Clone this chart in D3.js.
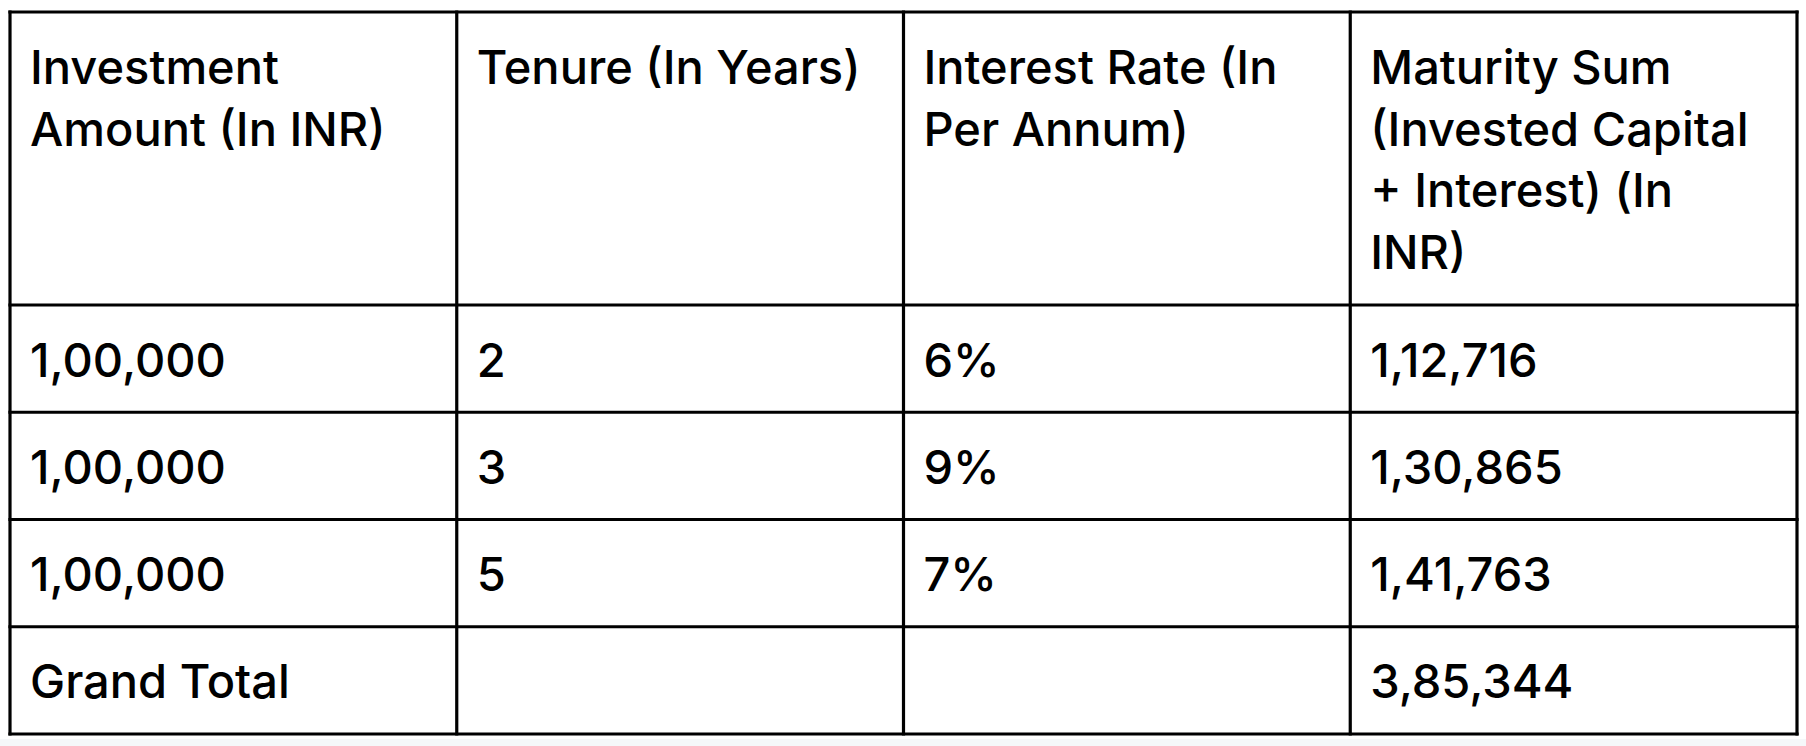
<!DOCTYPE html>
<html>
<head>
<meta charset="utf-8">
<script src="https://cdn.jsdelivr.net/npm/d3@7"></script>
<style>
  html, body { margin: 0; padding: 0; background: #ffffff; }
  svg { display: block; }
</style>
</head>
<body>
<svg id="drawing_region"></svg>
<script>
// table contents
const headers = [
    ["Investment", "Amount (In INR)"],
    ["Tenure (In Years)"],
    ["Interest Rate (In", "Per Annum)"],
    ["Maturity Sum", "(Invested Capital", "+ Interest) (In", "INR)"]
];
const amounts = ["1,00,000", "1,00,000", "1,00,000"];
const tenures = ["2", "3", "5"];
const rates = ["6%", "9%", "7%"];
const maturity = ["1,12,716", "1,30,865", "1,41,763"];
const totalLabel = "Grand Total";
const grandTotal = "3,85,344";

const width = 1806, height = 746;
const tblLeft = 10, tblRight = 1797, tblTop = 12, headerBottom = 305, tblBottom = 734;

const svg = d3.select('#drawing_region')
    .attr('width', width)
    .attr('height', height);

// faint strip under the table
svg.append('rect')
    .attr('x', 0).attr('y', 739)
    .attr('width', width).attr('height', height - 739)
    .attr('fill', '#f5f7f9');

const rows = amounts.map((a, i) => [a, tenures[i], rates[i], maturity[i]]);
rows.push([totalLabel, "", "", grandTotal]);

const xscale = d3.scaleBand()
    .domain(d3.range(4))
    .range([tblLeft, tblRight]);
const yscale = d3.scaleBand()
    .domain(d3.range(rows.length))
    .range([headerBottom, tblBottom]);

const pad = 20;
const font = 'Inter, "Noto Sans", sans-serif';
const fontSize = 47;
const fontWeight = 500;
const lineHeight = 61.5;

// header text
const head = svg.append('g');
headers.forEach((lines, c) => {
    head.append('text')
        .attr('x', xscale(c) + pad)
        .attr('y', 84)
        .attr('font-family', font)
        .attr('font-size', fontSize)
        .attr('font-weight', fontWeight)
        .attr('fill', '#000')
        .selectAll('tspan')
        .data(lines)
        .join('tspan')
        .attr('x', xscale(c) + pad)
        .attr('dy', (d, i) => i === 0 ? 0 : lineHeight)
        .text(d => d);
});

// body text
const body = svg.append('g');
rows.forEach((row, r) => {
    body.selectAll(null)
        .data(row)
        .join('text')
        .attr('x', (d, c) => xscale(c) + pad)
        .attr('y', yscale(r) + yscale.bandwidth() / 2 + 18)
        .attr('font-family', font)
        .attr('font-size', fontSize)
        .attr('font-weight', fontWeight)
        .attr('fill', '#000')
        .text(d => d);
});

// grid lines
const grid = svg.append('g')
    .attr('stroke', '#000')
    .attr('stroke-width', 3.2);
const colEdges = d3.range(5).map(c => c < 4 ? xscale(c) : tblRight);
const rowEdges = [tblTop].concat(d3.range(rows.length).map(r => yscale(r)), [tblBottom]);
grid.selectAll('.v')
    .data(colEdges)
    .join('line')
    .attr('x1', d => d).attr('x2', d => d)
    .attr('y1', tblTop - 1.6).attr('y2', tblBottom + 1.6);
grid.selectAll('.h')
    .data(rowEdges)
    .join('line')
    .attr('x1', tblLeft - 1.6).attr('x2', tblRight + 1.6)
    .attr('y1', d => d).attr('y2', d => d);
</script>
</body>
</html>
